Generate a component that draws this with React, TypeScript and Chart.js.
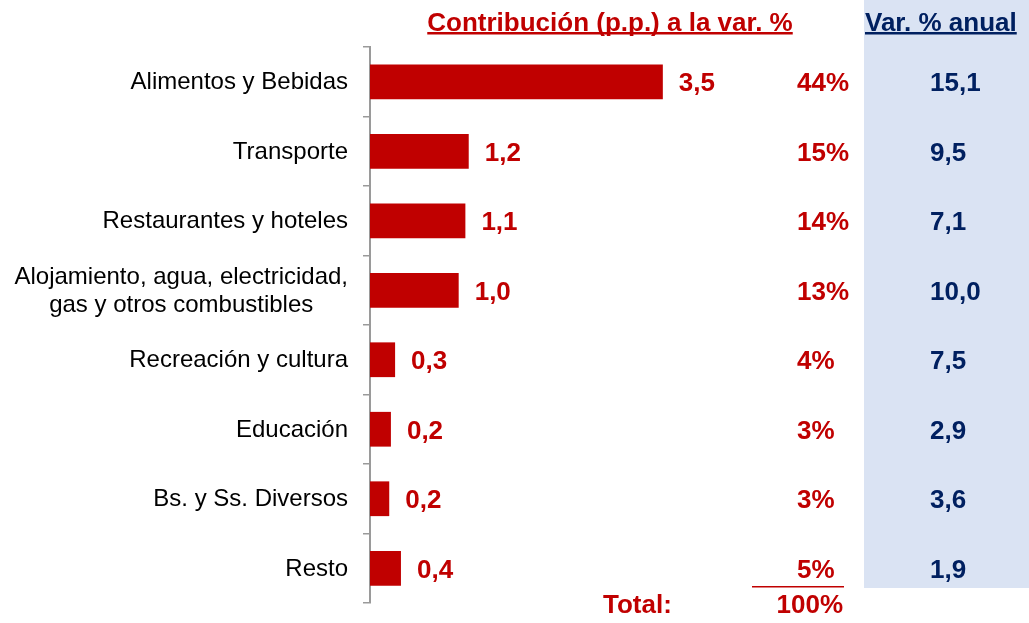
import React, { useEffect, useRef } from "react";
import { Chart, registerables } from "chart.js";

Chart.register(...registerables);

const categories: (string | string[])[] = [
  "Alimentos y Bebidas",
  "Transporte",
  "Restaurantes y hoteles",
  ["Alojamiento, agua, electricidad,", "gas y otros combustibles"],
  "Recreación y cultura",
  "Educación",
  "Bs. y Ss. Diversos",
  "Resto",
];
// bar lengths (p.p.)
const contribValues = [3.5, 1.18, 1.14, 1.06, 0.3, 0.25, 0.23, 0.37];
// labels printed next to the bars
const contribLabels = ["3,5", "1,2", "1,1", "1,0", "0,3", "0,2", "0,2", "0,4"];
const shareValues = [44, 15, 14, 13, 4, 3, 3, 5];
const annualValues = [15.1, 9.5, 7.1, 10.0, 7.5, 2.9, 3.6, 1.9];
const totalShare = 100;

const RED = "#C00000";
const BLUE = "#002060";
const BG_BLUE = "#DAE3F3";
const FONT = "'Liberation Sans', Arial, sans-serif";

const fmt = (v: number) => v.toFixed(1).replace(".", ",");

const overlay = {
  id: "overlay",
  beforeDraw(chart: any) {
    const ctx = chart.ctx;
    ctx.save();
    ctx.fillStyle = BG_BLUE;
    ctx.fillRect(864, 0, chart.width - 864, 588);
    ctx.restore();
  },
  afterDraw(chart: any) {
    const ctx = chart.ctx;
    const y = chart.scales.y;
    const x = chart.scales.x;
    ctx.save();
    // category labels
    ctx.fillStyle = "#000";
    ctx.font = `24px ${FONT}`;
    ctx.textBaseline = "alphabetic";
    categories.forEach((c, i) => {
      const cy = y.getPixelForValue(i);
      const right = 348;
      if (Array.isArray(c)) {
        const widths = c.map((l) => ctx.measureText(l).width);
        const maxW = Math.max(...widths);
        const center = right - maxW / 2;
        const lh = 28.4;
        const first = cy + 7.5 - ((c.length - 1) * lh) / 2;
        ctx.textAlign = "center";
        c.forEach((l, k) => ctx.fillText(l, center, first + k * lh));
      } else {
        ctx.textAlign = "right";
        ctx.fillText(c, right, cy + 7.5);
      }
    });
    // value labels
    ctx.font = `bold 26px ${FONT}`;
    ctx.fillStyle = RED;
    ctx.textAlign = "left";
    contribValues.forEach((v, i) => {
      const cy = y.getPixelForValue(i);
      ctx.fillText(contribLabels[i], x.getPixelForValue(v) + 16, cy + 9.5);
    });
    // share column
    shareValues.forEach((v, i) => {
      const cy = y.getPixelForValue(i);
      ctx.fillText(`${v}%`, 797, cy + 9.5);
    });
    // annual column
    ctx.fillStyle = BLUE;
    annualValues.forEach((v, i) => {
      const cy = y.getPixelForValue(i);
      ctx.fillText(fmt(v), 930, cy + 9.5);
    });
    // headers
    ctx.fillStyle = RED;
    ctx.textAlign = "center";
    const title = "Contribución (p.p.) a la var. %";
    const tw = ctx.measureText(title).width;
    ctx.fillText(title, 610, 31);
    ctx.fillRect(610 - tw / 2, 32, tw, 2.5);
    ctx.fillStyle = BLUE;
    ctx.textAlign = "left";
    const vh = "Var. % anual";
    const vw = ctx.measureText(vh).width;
    ctx.fillText(vh, 865, 31);
    ctx.fillRect(865, 32, vw, 2.5);
    // total
    ctx.fillStyle = RED;
    ctx.fillText("Total:", 603, 613);
    ctx.textAlign = "right";
    ctx.fillText(`${totalShare}%`, 843, 613);
    ctx.fillRect(752, 586, 92, 1.5);
    ctx.restore();
  },
};

export default function App() {
  const ref = useRef<HTMLCanvasElement | null>(null);
  useEffect(() => {
    if (!ref.current) return;
    const chart = new Chart(ref.current, {
      type: "bar",
      data: {
        labels: categories as any,
        datasets: [
          {
            data: contribValues,
            backgroundColor: RED,
            borderWidth: 0,
            barPercentage: 0.5,
            categoryPercentage: 1,
          },
        ],
      },
      options: {
        indexAxis: "y",
        animation: false,
        responsive: false,
        devicePixelRatio: 1,
        layout: { padding: { top: 47, bottom: 20, left: 0, right: 157 } },
        plugins: {
          legend: { display: false },
          tooltip: { enabled: false },
          title: { display: false },
        },
        scales: {
          x: { display: false, min: 0, max: 6 },
          y: {
            position: "left",
            grid: {
              offset: true,
              drawOnChartArea: false,
              drawTicks: true,
              tickLength: 7,
              color: "#9a9a9a",
              lineWidth: 1.5,
            },
            border: { display: true, color: "#9a9a9a", width: 2 },
            ticks: { display: false },
            afterFit(scale: any) {
              scale.width = 370;
            },
          },
        },
      },
      plugins: [overlay],
    });
    return () => chart.destroy();
  }, []);
  return (
    <div style={{ position: "absolute", left: 0, top: 0, width: 1029, height: 623, background: "#fff" }}>
      <canvas ref={ref} width={1029} height={623} style={{ display: "block" }} />
    </div>
  );
}
